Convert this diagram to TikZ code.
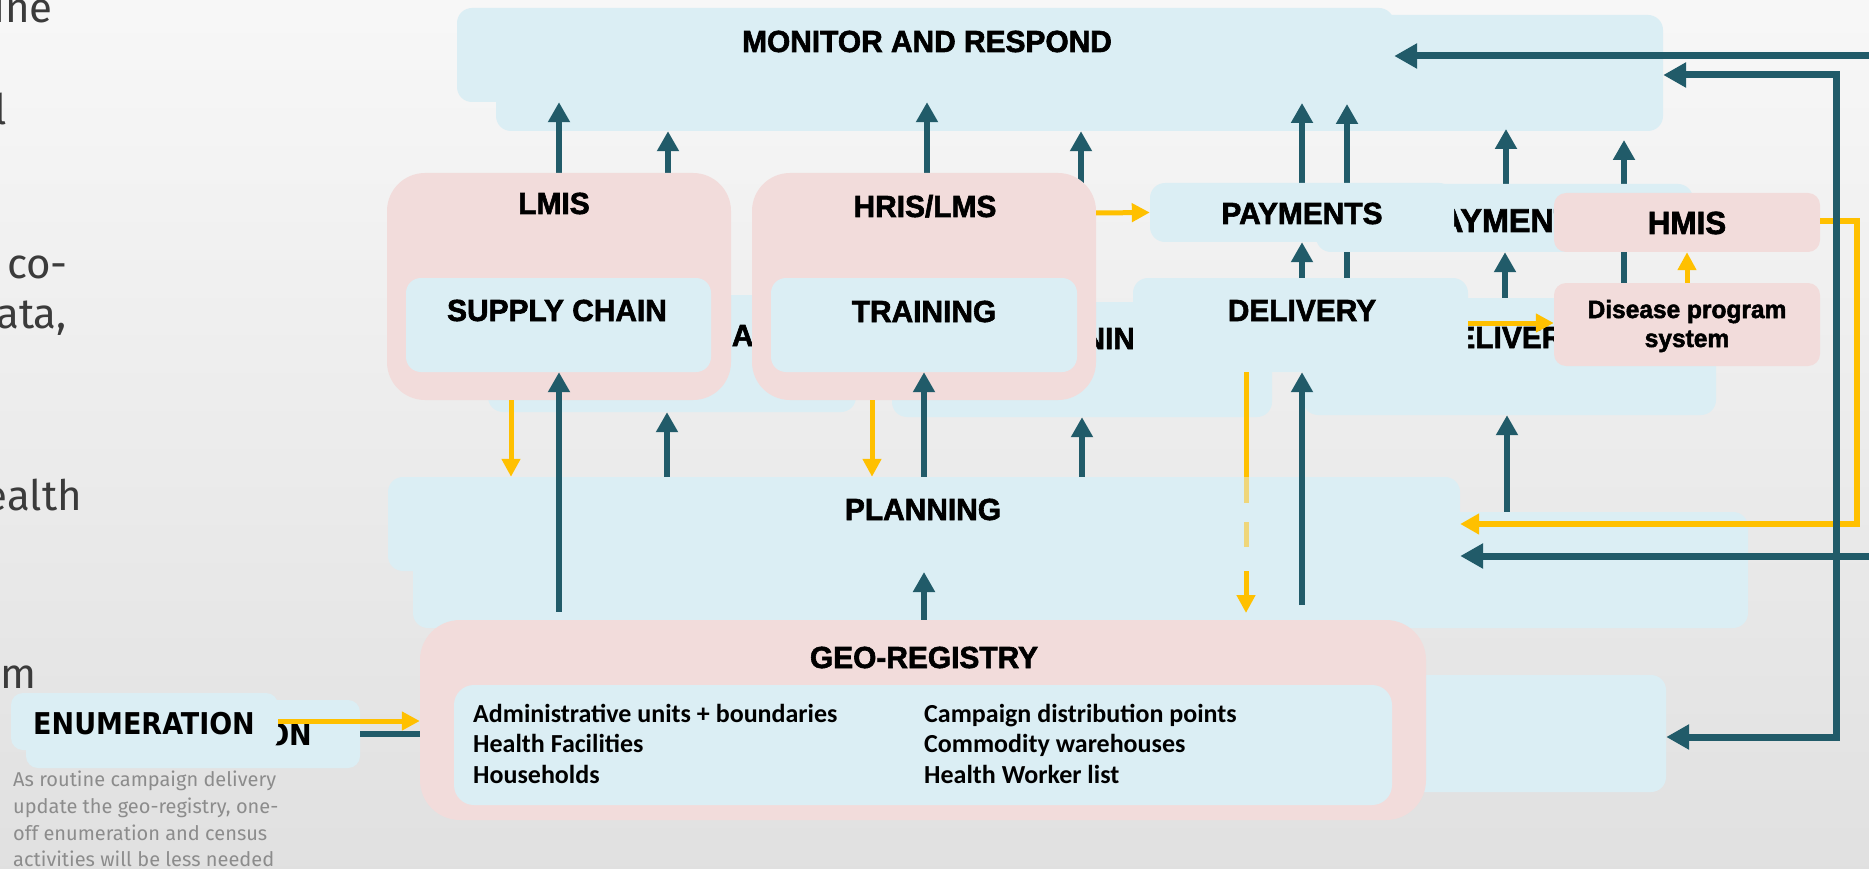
\documentclass[tikz,border=0pt]{standalone}
\usepackage{fontspec}
\usetikzlibrary{arrows.meta}
\newfontfamily\titlefont[FakeStretch=0.98, BoldFeatures={FakeBold=2}]{Liberation Sans}
\newfontfamily\enumfont{DejaVu Sans Condensed}
\newfontfamily\itemfont{Carlito}
\newfontfamily\bodyfont{Fira Sans}
\definecolor{lb}{HTML}{DBEEF4}
\definecolor{pk}{HTML}{F2DCDB}
\definecolor{teal}{HTML}{215B69}
\definecolor{gold}{HTML}{FFC000}
\definecolor{paleGold}{HTML}{EFD67A}
\definecolor{fragText}{HTML}{3B3B3B}
\definecolor{capText}{HTML}{8C8C8C}
\tikzset{
  bluebox/.style={fill=lb, draw=none, rounded corners=15pt, inner sep=0pt},
  pinkbox/.style={fill=pk, draw=none, rounded corners=38pt, inner sep=0pt},
  smallpink/.style={fill=pk, draw=none, rounded corners=12pt, inner sep=0pt},
  ttl/.style={font=\titlefont\bfseries\fontsize{30.5}{32}\selectfont, anchor=base, inner sep=0pt, text=black},
  bigttl/.style={ttl, font=\titlefont\bfseries\fontsize{32}{34}\selectfont},
  widettl/.style={ttl, font=\titlefont\bfseries\fontsize{33}{35}\selectfont},
  distxt/.style={font=\titlefont\bfseries\fontsize{25}{27}\selectfont, anchor=base, inner sep=0pt, text=black},
  itemtxt/.style={font=\itemfont\bfseries\fontsize{26}{28}\selectfont, anchor=base west, inner sep=0pt, text=black},
  enumtxt/.style={font=\enumfont\bfseries\fontsize{30}{32}\selectfont, anchor=base, inner sep=0pt, text=black},
  frag/.style={font=\bodyfont\fontsize{42}{44}\selectfont, anchor=base east, inner sep=0pt, text=fragText},
  captxt/.style={font=\bodyfont\fontsize{20}{22}\selectfont, anchor=base west, inner sep=0pt, text=capText},
  darr/.style={draw=teal, line width=6pt, -{Triangle[width=21pt,length=20pt]}},
  dline/.style={draw=teal, line width=6pt},
  yarr/.style={draw=gold, line width=5pt, -{Triangle[width=18pt,length=18pt]}},
  yline/.style={draw=gold, line width=5pt},
  yfade/.style={draw=paleGold, line width=5pt},
  farr/.style={draw=teal, line width=7pt, -{Triangle[width=24pt,length=23pt]}},
  farrboth/.style={draw=teal, line width=7pt, {Triangle[width=24pt,length=23pt]}-{Triangle[width=24pt,length=23pt]}},
  fyarr/.style={draw=gold, line width=5.5pt, -{Triangle[width=20pt,length=19pt]}},
}
\begin{document}
\begin{tikzpicture}[x=1pt,y=-1pt]
\useasboundingbox (0,0) rectangle (1869,869);
% slide background
\fill[top color=white!97!black, bottom color=white!88!black] (0,0) rectangle (1869,869);

% text running in from the left edge
\node[frag] (f1) at (53,23) {ine};
\node[frag] (f2) at (7,125) {l};
\node[frag] (f3) at (68,278) {co-};
\node[frag] (f4) at (67,328) {ata,};
\node[frag] (f5) at (82,510) {ealth};
\node[frag] (f6) at (37,688) {m};

% caption under the enumeration box
\node[captxt] (c1) at (13,786) {As routine campaign delivery};
\node[captxt] (c2) at (13,813) {update the geo-registry, one-};
\node[captxt] (c3) at (13,840) {off enumeration and census};
\node[captxt] (c4) at (13,866) {activities will be less needed};

% monitor and respond
\node[bluebox, minimum width=1167pt, minimum height=116pt] (m2) at (1079.5,73) {};
\node[bluebox, minimum width=937pt, minimum height=94pt] (m1) at (925.5,55) {};
\node[ttl] (tmon) at (927,52) {MONITOR AND RESPOND};

% upward links into monitor and respond
\draw[darr] (559,190) -- (m1.south -| 559,0);
\draw[darr] (668,190) -- (m2.south -| 668,0);
\draw[darr] (927,190) -- (m1.south -| 927,0);
\draw[darr] (1081,190) -- (m2.south -| 1081,0);
\draw[darr] (1302,195) -- (1302,103);
\draw[darr] (1347,290) -- (1347,104);
\draw[darr] (1506,195) -- (1506,129);
\draw[darr] (1624,290) -- (1624,140);

% shifted copies behind the front boxes
\node[bluebox, minimum width=368pt, minimum height=117pt] (bsup) at (672,353.5) {};
\node[ttl] (tbsup) at (673.5,346) {SUPPLY CHAIN};
\node[bluebox, minimum width=380pt, minimum height=115pt] (btrn) at (1082,359.5) {};
\node[ttl] (tbtrn) at (1086,349) {TRAINING};
\node[bluebox, minimum width=377pt, minimum height=68pt] (bpay) at (1504.5,218) {};
\node[widettl] (tbpay) at (1508,232) {PAYMENTS};
\node[bluebox, minimum width=413pt, minimum height=117pt] (bdel) at (1509.5,356.5) {};
\node[ttl] (tbdel) at (1508,348) {DELIVERY};
\draw[darr] (bdel.north -| 1505,0) -- (bpay.south -| 1505,0);

% LMIS and HRIS/LMS
\node[pinkbox, minimum width=344pt, minimum height=227pt] (lmis) at (559,286.5) {};
\node[ttl] (tlmis) at (554,214) {LMIS};
\node[bluebox, minimum width=305pt, minimum height=94pt] (sup) at (558.5,325) {};
\node[ttl] (tsup) at (557,321) {SUPPLY CHAIN};
\node[pinkbox, minimum width=344pt, minimum height=227pt] (hris) at (924,286.5) {};
\node[ttl] (thris) at (925,217) {HRIS/LMS};
\node[bluebox, minimum width=306pt, minimum height=94pt] (trn) at (924,325) {};
\node[ttl] (ttrn) at (924,322) {TRAINING};

% payments and delivery
\node[bluebox, minimum width=304pt, minimum height=59pt] (pay) at (1302,212.5) {};
\node[ttl] (tpay) at (1302,224) {PAYMENTS};
\node[bluebox, minimum width=335pt, minimum height=94pt] (del) at (1300.5,325) {};
\node[ttl] (tdel) at (1302,321) {DELIVERY};

% HMIS and disease programme system
\node[smallpink, minimum width=266pt, minimum height=59pt] (hmis) at (1687,222.5) {};
\node[bigttl] (thmis) at (1687,234) {HMIS};
\node[smallpink, minimum width=266pt, minimum height=83pt] (dis) at (1687,324.5) {};
\node[distxt] (tdis1) at (1687,318) {Disease program};
\node[distxt] (tdis2) at (1687,347) {system};

\draw[darr] (del.north -| 1302,0) -- (pay.south -| 1302,0);
\draw[yarr] (hris.east |- 0,213) -- (pay.west);
\draw[yarr] (del.east |- 0,323) -- (dis.west |- 0,323);
\draw[yarr] (dis.north) -- (hmis.south);

% planning
\node[bluebox, minimum width=1335pt, minimum height=116pt] (plan2) at (1080.5,570) {};
\node[bluebox, minimum width=1072pt, minimum height=94pt] (plan1) at (924,524) {};
\node[ttl] (tplan) at (923,520) {PLANNING};

% geo-registry
\node[bluebox, minimum width=466pt, minimum height=117pt] (bgeo) at (1433,733.5) {};
\node[fill=pk, draw=none, rounded corners=40pt, inner sep=0pt, minimum width=1006pt, minimum height=200pt] (geo) at (923,720) {};
\node[ttl] (tgeo) at (924,668) {GEO-REGISTRY};
\node[bluebox, rounded corners=20pt, minimum width=938pt, minimum height=120pt] (geoin) at (923,745) {};
\node[itemtxt] (g1) at (473,722) {Administrative units + boundaries};
\node[itemtxt] (g2) at (473,752) {Health Facilities};
\node[itemtxt] (g3) at (473,783) {Households};
\node[itemtxt] (g4) at (924,722) {Campaign distribution points};
\node[itemtxt] (g5) at (924,752) {Commodity warehouses};
\node[itemtxt] (g6) at (924,783) {Health Worker list};

% links around planning
\draw[darr] (geo.north -| 559,0) ++(0,-8) -- (sup.south -| 559,0);
\draw[darr] (plan1.north -| 667,0) -- (bsup.south -| 667,0);
\draw[darr] (plan1.north -| 924,0) -- (trn.south);
\draw[darr] (plan1.north -| 1082,0) -- (btrn.south -| 1082,0);
\draw[darr] (geo.north -| 924,0) -- (924,572);
\draw[darr] (1302,605) -- (del.south -| 1302,0);
\draw[darr] (plan2.north -| 1507,0) -- (bdel.south -| 1507,0);
\draw[yarr] (lmis.south -| 511,0) -- (plan1.north -| 511,0);
\draw[yarr] (hris.south -| 872,0) -- (plan1.north -| 872,0);
\draw[yline] (del.south -| 1246,0) -- (plan1.north -| 1246,0);
\draw[yfade] (1246,477) -- (1246,503);
\draw[yfade] (1246,522) -- (1246,547);
\draw[yarr] (1246,571) -- (1246,613);

% enumeration
\node[bluebox, rounded corners=12pt, minimum width=334pt, minimum height=68pt] (benum) at (193,734) {};
\node[enumtxt] (tbenum) at (201,745) {ENUMERATION};
\node[bluebox, rounded corners=12pt, minimum width=267pt, minimum height=57pt] (enum) at (144.5,721.5) {};
\node[enumtxt] (tenum) at (144,734) {ENUMERATION};
\draw[yarr] (enum.east |- 0,721) -- (geo.west |- 0,721);
\draw[dline] (benum.east) -- (geo.west |- benum.east);

% feedback loops on the right
\coordinate (rin1) at (1869,56);
\coordinate (rin2) at (1869,556);
\draw[fyarr] (hmis.east |- 0,221) -- (1857,221) -- (1857,524) -- (plan1.east |- 0,524);
\draw[farrboth] (m2.east |- 0,75) -- (1836,75) -- (1836,737) -- (bgeo.east |- 0,737);
\draw[farr] (rin1) -- (m1.east |- rin1);
\draw[farr] (rin2) -- (plan1.east |- rin2);
\end{tikzpicture}
\end{document}
